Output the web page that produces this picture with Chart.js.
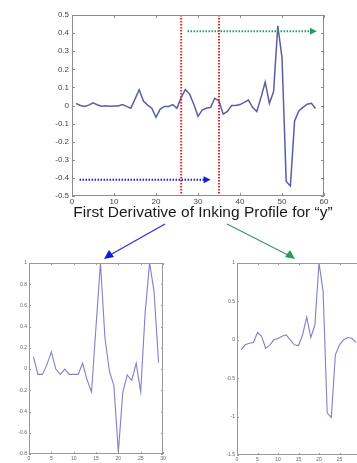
<!DOCTYPE html>
<html>
<head>
<meta charset="utf-8">
<script src="https://cdn.jsdelivr.net/npm/chart.js@4.4.1/dist/chart.umd.min.js"></script>
<style>
  html,body{margin:0;padding:0;background:#fff;width:357px;height:463px;overflow:hidden;}
  #wrap{position:relative;width:357px;height:463px;overflow:hidden;}
  canvas{position:absolute;}
  #title{position:absolute;left:0;width:406px;top:203px;text-align:center;font-family:"Liberation Sans",Arial,sans-serif;font-size:15.5px;color:#1a1a1a;white-space:nowrap;}
  svg{position:absolute;left:0;top:0;}
</style>
</head>
<body>
<div id="wrap">
  <canvas id="top" width="357" height="207" style="left:0;top:0;"></canvas>
  <div id="title">First Derivative of Inking Profile for “y”</div>
  <canvas id="left" width="175" height="213" style="left:0;top:250px;"></canvas>
  <canvas id="right" width="170" height="213" style="left:200px;top:250px;"></canvas>
  <svg width="357" height="463">
    <line x1="165" y1="224" x2="110" y2="255" stroke="#3030d8" stroke-width="1.3"/>
    <polygon points="104,259 109,250 114,257" fill="#1515e0"/>
    <line x1="227" y1="224" x2="288" y2="255" stroke="#3a9a70" stroke-width="1.3"/>
    <polygon points="295,259 285,257 290,250" fill="#2a9a60"/>
  </svg>
</div>
<script>
// ---- Data ----
const topX = [1,2,3,4,5,6,7,8,9,10,11,12,13,14,15,16,17,18,19,20,21,22,23,24,25,26,27,28,29,30,31,32,33,34,35,36,37,38,39,40,41,42,43,44,45,46,47,48,49,50,51,52,53,54,55,56,57,58];
const topY = [0.011,0.000,-0.005,0.002,0.015,0.004,-0.004,-0.002,-0.004,-0.003,-0.003,0.005,-0.005,-0.015,0.035,0.087,0.025,0.002,-0.015,-0.065,-0.020,-0.005,-0.005,0.005,-0.015,0.045,0.088,0.063,0.007,-0.060,-0.025,-0.015,-0.010,0.040,0.025,-0.048,-0.033,0.000,0.000,0.005,0.017,0.030,-0.010,-0.033,0.045,0.130,0.012,0.077,0.440,0.265,-0.420,-0.445,-0.085,-0.030,-0.010,0.007,0.012,-0.017];
const topXTicks = [0,10,20,30,40,50,60];
const topYTicks = [0.5,0.4,0.3,0.2,0.1,0,-0.1,-0.2,-0.3,-0.4,-0.5];

const leftX = [1,2,3,4,5,6,7,8,9,10,11,12,13,14,15,16,17,18,19,20,21,22,23,24,25,26,27,28,29];
const leftY = [0.116,-0.05,-0.05,0.04,0.163,0.0,-0.05,0.0,-0.05,-0.05,-0.05,0.055,-0.1,-0.215,0.40,1.0,0.295,-0.02,-0.155,-0.78,-0.22,-0.055,-0.105,0.055,-0.215,0.53,1.0,0.73,0.06];
const leftXTicks = [0,5,10,15,20,25,30];
const leftYTicks = [1,0.8,0.6,0.4,0.2,0,-0.2,-0.4,-0.6,-0.8];

const rightX = [1,2,3,4,5,6,7,8,9,10,11,12,13,14,15,16,17,18,19,20,21,22,23,24,25,26,27,28,29];
const rightY = [-0.13,-0.065,-0.045,-0.035,0.095,0.045,-0.11,-0.07,0.0,0.017,0.045,0.065,0.0,-0.065,-0.075,0.065,0.295,0.03,0.195,1.0,0.63,-0.955,-1.01,-0.195,-0.065,0.0,0.03,0.02,-0.035];
const rightXTicks = [0,5,10,15,20,25,30];
const rightYTicks = [1,0.5,0,-0.5,-1,-1.5];

// annotation values (data units of the top chart)
const windowLines = [26, 35];
const blueArrow = {y:-0.41, from:1.8, to:33};
const greenArrow = {y:0.41, from:27.5, to:58.3};

// ---- helpers ----
const FONT = '"Liberation Sans", Arial, sans-serif';
function fmt(v){ const r = Math.round(v*100)/100; return String(r); }

const boxPlugin = {
  id:'box',
  afterDatasetsDraw(chart, args, o){
    const {ctx, chartArea:a, scales:{x,y}} = chart;
    ctx.save();
    ctx.strokeStyle = o.color || '#8a8a8a';
    ctx.lineWidth = 1;
    const L = o.len || 3;
    ctx.beginPath();
    x.ticks.forEach(t=>{
      const p = Math.round(x.getPixelForValue(t.value))+0.5;
      ctx.moveTo(p, a.bottom); ctx.lineTo(p, a.bottom-L);
      ctx.moveTo(p, a.top); ctx.lineTo(p, a.top+L);
    });
    y.ticks.forEach(t=>{
      const p = Math.round(y.getPixelForValue(t.value))+0.5;
      ctx.moveTo(a.left, p); ctx.lineTo(a.left+L, p);
      ctx.moveTo(a.right, p); ctx.lineTo(a.right-L, p);
    });
    ctx.stroke();
    ctx.lineWidth = o.width || 1;
    ctx.strokeRect(Math.round(a.left)+0.5, Math.round(a.top)+0.5, Math.round(a.width)-1, Math.round(a.height)-1);
    ctx.restore();
  }
};

const annotPlugin = {
  id:'annot',
  afterDatasetsDraw(chart){
    const {ctx, chartArea:a, scales:{x,y}} = chart;
    ctx.save();
    ctx.strokeStyle = '#e02424';
    ctx.lineWidth = 2;
    ctx.setLineDash([1.5,1.5]);
    windowLines.forEach(v=>{
      const p = x.getPixelForValue(v);
      ctx.beginPath(); ctx.moveTo(p, a.top); ctx.lineTo(p, a.bottom); ctx.stroke();
    });
    function arrow(ar, color){
      const py = y.getPixelForValue(ar.y);
      const x0 = x.getPixelForValue(ar.from), x1 = x.getPixelForValue(ar.to);
      ctx.strokeStyle = color; ctx.fillStyle = color;
      ctx.lineWidth = 2; ctx.setLineDash([1.5,1.5]);
      ctx.beginPath(); ctx.moveTo(x0, py); ctx.lineTo(x1-6, py); ctx.stroke();
      ctx.setLineDash([]);
      ctx.beginPath(); ctx.moveTo(x1, py); ctx.lineTo(x1-7, py-3.5); ctx.lineTo(x1-7, py+3.5); ctx.closePath(); ctx.fill();
    }
    arrow(blueArrow, '#1a1ad8');
    arrow(greenArrow, '#2a9a62');
    ctx.restore();
  }
};

function makeChart(id, xs, ys, xTicks, yTicks, cfg){
  const pts = xs.map((v,i)=>({x:v, y:ys[i]}));
  return new Chart(document.getElementById(id), {
    type:'line',
    data:{datasets:[{data:pts, borderColor:cfg.lineColor, borderWidth:cfg.lineWidth, pointRadius:0, tension:0, fill:false}]},
    options:{
      responsive:false, animation:false, devicePixelRatio:1,
      layout:{padding:cfg.padding},
      plugins:{legend:{display:false}, tooltip:{enabled:false}, box:{color:cfg.boxColor, len:cfg.tickLen}},
      scales:{
        x:{type:'linear', min:xTicks[0], max:xTicks[xTicks.length-1],
           afterBuildTicks(s){ s.ticks = xTicks.map(v=>({value:v})); },
           ticks:{font:{family:FONT, size:cfg.fontSize}, color:cfg.labelColor, padding:cfg.xPad, maxRotation:0, autoSkip:false, callback:v=>fmt(v)},
           grid:{display:false, drawTicks:false}, border:{display:false},
           afterFit(s){ s.height = cfg.xH; }},
        y:{type:'linear', min:yTicks[yTicks.length-1], max:yTicks[0],
           afterBuildTicks(s){ s.ticks = yTicks.slice().reverse().map(v=>({value:v})); },
           ticks:{font:{family:FONT, size:cfg.fontSize}, color:cfg.labelColor, padding:cfg.yPad, autoSkip:false, callback:v=>fmt(v)},
           grid:{display:false, drawTicks:false}, border:{display:false},
           afterFit(s){ s.width = cfg.yW; }}
      }
    },
    plugins: cfg.plugins
  });
}

makeChart('top', topX, topY, topXTicks, topYTicks, {
  lineColor:'#5a5ea6', lineWidth:1.5, padding:{left:0, top:15, right:33, bottom:0},
  boxColor:'#8c8c8c', tickLen:3, fontSize:8, labelColor:'#444', xPad:1, yPad:3, xH:11, yW:72,
  plugins:[annotPlugin, boxPlugin]
});
makeChart('left', leftX, leftY, leftXTicks, leftYTicks, {
  lineColor:'#7e82c8', lineWidth:1.1, padding:{left:0, top:13, right:12, bottom:0},
  boxColor:'#9a9a9a', tickLen:2, fontSize:5, labelColor:'#666', xPad:2, yPad:2, xH:9, yW:29,
  plugins:[boxPlugin]
});
makeChart('right', rightX, rightY, rightXTicks, rightYTicks, {
  lineColor:'#7e82c8', lineWidth:1.1, padding:{left:0, top:13, right:10, bottom:0},
  boxColor:'#9a9a9a', tickLen:2, fontSize:5, labelColor:'#666', xPad:2, yPad:2, xH:8, yW:37,
  plugins:[boxPlugin]
});
</script>
</body>
</html>
